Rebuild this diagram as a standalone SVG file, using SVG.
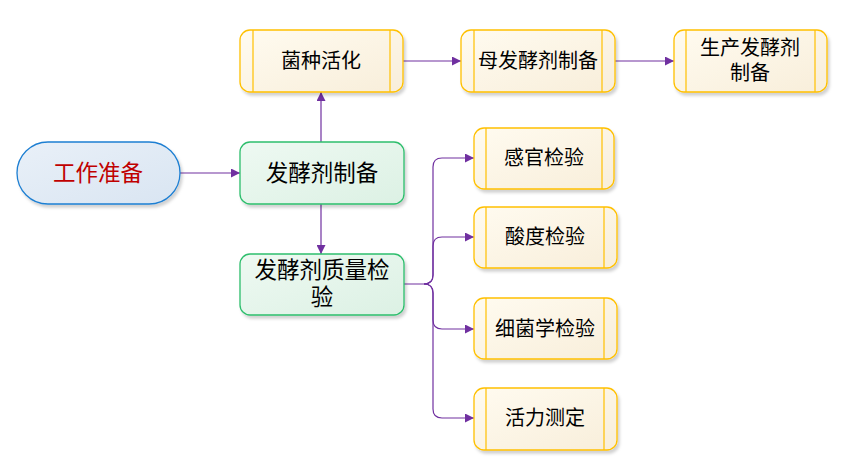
<svg xmlns="http://www.w3.org/2000/svg" width="847" height="472" viewBox="0 0 847 472">
<defs>
<linearGradient id="gy" x1="0" y1="0" x2="1" y2="1"><stop offset="0" stop-color="#FFFBF0"/><stop offset="1" stop-color="#F8EEDA"/></linearGradient>
<linearGradient id="gg" x1="0" y1="0" x2="1" y2="1"><stop offset="0" stop-color="#EEF9F2"/><stop offset="1" stop-color="#DCF1E4"/></linearGradient>
<linearGradient id="gb" x1="0" y1="0" x2="1" y2="1"><stop offset="0" stop-color="#E9F0F8"/><stop offset="1" stop-color="#D9E5F2"/></linearGradient>
<filter id="sh" x="-10%" y="-10%" width="130%" height="140%"><feDropShadow dx="2" dy="3" stdDeviation="1.5" flood-color="#000" flood-opacity="0.18"/></filter>
<marker id="ar" viewBox="0 0 10 10" refX="10" refY="5" markerWidth="9" markerHeight="9" markerUnits="userSpaceOnUse" orient="auto"><path d="M0,0 L10,5 L0,10 Z" fill="#7030A0"/></marker>
<style>
.y{fill:url(#gy);stroke:#FFC000;stroke-width:1.3;filter:url(#sh)}
.yl{stroke:#FFC000;stroke-width:1.2}
.g{fill:url(#gg);stroke:#2DBE6C;stroke-width:1.3;filter:url(#sh)}
.b{fill:url(#gb);stroke:#1E7FD2;stroke-width:1.3;filter:url(#sh)}
.c{fill:none;stroke:#7030A0;stroke-width:1.2;marker-end:url(#ar)}
text{font-family:"Liberation Sans","Noto Sans CJK SC",sans-serif;text-anchor:middle;dominant-baseline:central;fill:#000}
.t1{font-size:22.5px}
.t2{font-size:20px}
</style>
</defs>
<g id="connectors">
<path class="c" d="M180,173 H240"/>
<path class="c" d="M321,204 V254"/>
<path class="c" d="M321,142 V92"/>
<path class="c" d="M403,61 H461"/>
<path class="c" d="M615,61 H674"/>
<path class="c" d="M404,284 H424 Q433,284 433,275 V167 Q433,158 442,158 H474"/>
<path class="c" d="M424,284 Q433,284 433,275 V246 Q433,237 442,237 H474"/>
<path class="c" d="M424,284 Q433,284 433,293 V320 Q433,329 442,329 H474"/>
<path class="c" d="M424,284 Q433,284 433,293 V409 Q433,418 442,418 H474"/>
</g>
<g id="n-gongzuo"><rect class="b" x="17" y="142" width="163" height="62" rx="31"/><text class="t1" x="98" y="173" style="fill:#C00000">工作准备</text></g>
<g id="n-zhibei"><rect class="g" x="240" y="142" width="164" height="62" rx="10"/><text class="t1" x="322" y="173">发酵剂制备</text></g>
<g id="n-jianyan"><rect class="g" x="240" y="254" width="164" height="61" rx="10"/><text class="t1"><tspan x="322" y="270">发酵剂质量检</tspan><tspan x="322" y="297">验</tspan></text></g>
<g id="n-huohua"><rect class="y" x="240" y="30" width="163" height="62" rx="10"/><path class="yl" d="M253,30 V92 M390,30 V92"/><text class="t2" x="321" y="61">菌种活化</text></g>
<g id="n-mu"><rect class="y" x="461" y="30" width="154" height="62" rx="10"/><path class="yl" d="M474,30 V92 M602,30 V92"/><text class="t2" x="538" y="61">母发酵剂制备</text></g>
<g id="n-shengchan"><rect class="y" x="674" y="30" width="153" height="62" rx="10"/><path class="yl" d="M686,30 V92 M815,30 V92"/><text class="t2"><tspan x="750" y="48">生产发酵剂</tspan><tspan x="750" y="73">制备</tspan></text></g>
<g id="n-ganguan"><rect class="y" x="474" y="128" width="140" height="61" rx="10"/><path class="yl" d="M486,128 V189 M602,128 V189"/><text class="t2" x="544" y="158">感官检验</text></g>
<g id="n-suandu"><rect class="y" x="474" y="207" width="143" height="61" rx="10"/><path class="yl" d="M486,207 V268 M604,207 V268"/><text class="t2" x="545" y="237">酸度检验</text></g>
<g id="n-xijun"><rect class="y" x="474" y="298" width="143" height="61" rx="10"/><path class="yl" d="M486,298 V359 M604,298 V359"/><text class="t2" x="545" y="329">细菌学检验</text></g>
<g id="n-huoli"><rect class="y" x="474" y="388" width="143" height="62" rx="10"/><path class="yl" d="M486,388 V450 M604,388 V450"/><text class="t2" x="545" y="418">活力测定</text></g>
</svg>
